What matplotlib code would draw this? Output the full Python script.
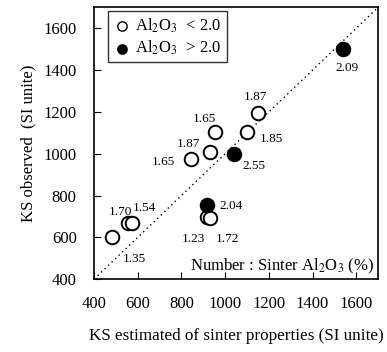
import matplotlib.pyplot as plt

plt.rcParams['font.family'] = ['Liberation Serif', 'DejaVu Serif']
plt.rcParams['mathtext.fontset'] = 'stix'

# open circles: sinter Al2O3 < 2.0
low_x = [482, 557, 572, 842, 931, 954, 1102, 1152, 916, 931]
low_y = [600, 670, 670, 976, 1006, 1104, 1104, 1196, 699, 691]
low_lab = ['1.35', '1.70', '1.54', '1.65', '1.87', '1.65', '1.85', '1.87', '1.23', '1.72']
# label centre offsets (pixels)
low_off = [(22, -22), (-8, 11), (13, 15), (-27, -3), (-22, 8), (-11, 13), (24, -7), (-3, 16), (-13, -22), (17, -21)]

# filled circles: sinter Al2O3 > 2.0
high_x = [919, 1042, 1541]
high_y = [755, 1000, 1503]
high_lab = ['2.04', '2.55', '2.09']
high_off = [(24, -1), (20, -12), (4, -19)]

fig = plt.figure(figsize=(3.87, 3.52), dpi=100)
ax = fig.add_axes([0.243, 0.207, 0.734, 0.772])

# 1:1 line
ax.plot([400, 1700], [400, 1700], color='black', linestyle=(0, (1, 2.5)), linewidth=1.0, zorder=1)

ax.scatter(low_x, low_y, s=95, facecolor='white', edgecolor='black', linewidths=1.4, zorder=3)
ax.scatter(high_x, high_y, s=95, facecolor='black', edgecolor='black', linewidths=1.4, zorder=4)

for x, y, t, (dx, dy) in zip(low_x + high_x, low_y + high_y, low_lab + high_lab, low_off + high_off):
    ax.annotate(t, (x, y), xytext=(dx, dy), textcoords='offset pixels', fontsize=9.5,
                ha='center', va='center')

ax.set_xlim(400, 1700)
ax.set_ylim(400, 1700)
ax.set_xticks([400, 600, 800, 1000, 1200, 1400, 1600])
ax.set_yticks([400, 600, 800, 1000, 1200, 1400, 1600])
ax.tick_params(direction='in', length=5, labelsize=12, pad=12.5)
ax.set_xlabel('KS estimated of sinter properties (SI unite)', fontsize=12.3, labelpad=11)
ax.set_ylabel('KS observed  (SI unite)', fontsize=12, labelpad=5)
for s in ax.spines.values():
    s.set_linewidth(1.2)

# legend
ax.scatter([], [], s=45, facecolor='white', edgecolor='black', linewidths=1.0, label=r'Al$_2$O$_3$  < 2.0')
ax.scatter([], [], s=45, facecolor='black', edgecolor='black', label=r'Al$_2$O$_3$  > 2.0')
leg = ax.legend(loc='upper left', fontsize=12, frameon=True, fancybox=False, edgecolor='black',
                handletextpad=0.25, borderpad=0.3, handlelength=1.1, labelspacing=0.25,
                borderaxespad=0, bbox_to_anchor=(0.049, 0.985))
leg.get_frame().set_linewidth(1.0)

ax.text(0.985, 0.01, r'Number : Sinter Al$_2$O$_3$ (%)', transform=ax.transAxes, ha='right', va='bottom', fontsize=12)

fig.savefig('out.png', dpi=100)
